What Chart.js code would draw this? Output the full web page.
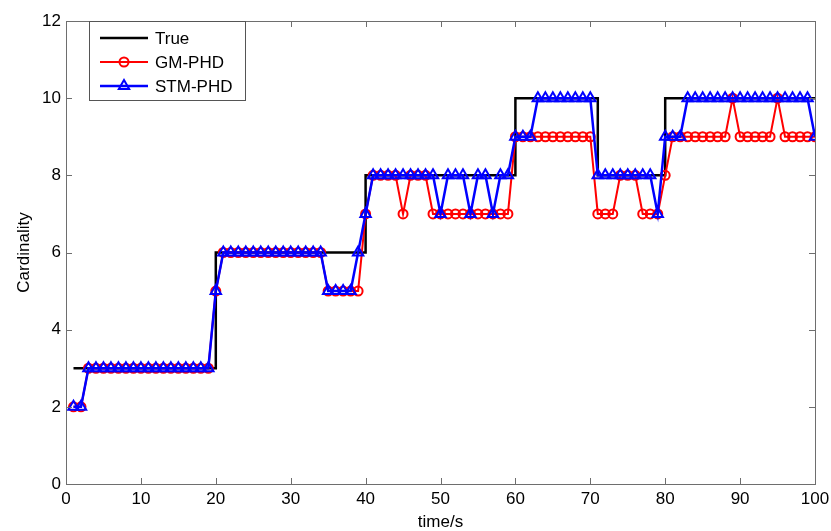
<!DOCTYPE html>
<html>
<head>
<meta charset="utf-8">
<script src="https://cdn.jsdelivr.net/npm/chart.js@4.4.1/dist/chart.umd.min.js"></script>
<style>
  html, body { margin: 0; padding: 0; background: #fff; }
  #wrap { width: 831px; height: 531px; }
</style>
</head>
<body>
<div id="wrap"><canvas id="c" width="831" height="531"></canvas></div>
<script>
const time = [1,2,3,4,5,6,7,8,9,10,11,12,13,14,15,16,17,18,19,20,21,22,23,24,25,26,27,28,29,30,31,32,33,34,35,36,37,38,39,40,41,42,43,44,45,46,47,48,49,50,51,52,53,54,55,56,57,58,59,60,61,62,63,64,65,66,67,68,69,70,71,72,73,74,75,76,77,78,79,80,81,82,83,84,85,86,87,88,89,90,91,92,93,94,95,96,97,98,99,100];

const trueCard = [3,3,3,3,3,3,3,3,3,3,3,3,3,3,3,3,3,3,3,
  6,6,6,6,6,6,6,6,6,6,6,6,6,6,6,6,6,6,6,6,
  8,8,8,8,8,8,8,8,8,8,8,8,8,8,8,8,8,8,8,8,
  10,10,10,10,10,10,10,10,10,10,10,
  8,8,8,8,8,8,8,8,8,
  10,10,10,10,10,10,10,10,10,10,10,10,10,10,10,10,10,10,10,10,10];

const gmPhd = [2,2,
  3,3,3,3,3,3,3,3,3,3,3,3,3,3,3,3,3,
  5,
  6,6,6,6,6,6,6,6,6,6,6,6,6,6,
  5,5,5,5,5,
  7,
  8,8,8,8,
  7,
  8,8,8,
  7,7,7,7,7,7,7,7,7,7,7,
  9,9,9,9,9,9,9,9,9,9,9,
  7,7,7,
  8,8,8,
  7,7,7,
  8,
  9,9,9,9,9,9,9,9,
  10,
  9,9,9,9,9,
  10,
  9,9,9,9,9];

const stmPhd = [2,2,
  3,3,3,3,3,3,3,3,3,3,3,3,3,3,3,3,3,
  5,
  6,6,6,6,6,6,6,6,6,6,6,6,6,6,
  5,5,5,5,
  6,
  7,
  8,8,8,8,8,8,8,8,8,
  7,
  8,8,8,
  7,
  8,8,
  7,
  8,8,
  9,9,9,
  10,10,10,10,10,10,10,10,
  8,8,8,8,8,8,8,8,
  7,
  9,9,9,
  10,10,10,10,10,10,10,10,10,10,10,10,10,10,10,10,10,
  9];

const seriesNames = ['True', 'GM-PHD', 'STM-PHD'];
const xTicks = [0,10,20,30,40,50,60,70,80,90,100];
const yTicks = [0,2,4,6,8,10,12];

const FONT = "'Liberation Sans', Arial, sans-serif";
const AXIS_COLOR = '#6e6e6e';

const frameTicks = {
  id: 'frameTicks',
  afterDatasetsDraw(chart) {
    const {ctx, chartArea: a, scales: {x, y}} = chart;
    ctx.save();
    ctx.strokeStyle = AXIS_COLOR;
    ctx.lineWidth = 1;
    ctx.beginPath();
    const L = 6;
    xTicks.forEach(v => {
      const px = Math.round(x.getPixelForValue(v)) + 0.5;
      ctx.moveTo(px, a.bottom); ctx.lineTo(px, a.bottom - L);
      ctx.moveTo(px, a.top); ctx.lineTo(px, a.top + L);
    });
    yTicks.forEach(v => {
      const py = Math.round(y.getPixelForValue(v)) + 0.5;
      ctx.moveTo(a.left, py); ctx.lineTo(a.left + L, py);
      ctx.moveTo(a.right, py); ctx.lineTo(a.right - L, py);
    });
    ctx.stroke();
    ctx.strokeRect(Math.round(a.left) + 0.5, Math.round(a.top) + 0.5,
                   Math.round(a.right - a.left), Math.round(a.bottom - a.top));
    ctx.restore();
  }
};

const boxLegend = {
  id: 'boxLegend',
  afterDraw(chart) {
    const {ctx, chartArea: a} = chart;
    const bx = Math.round(a.left) + 23, by = Math.round(a.top), bw = 156, bh = 79;
    ctx.save();
    ctx.fillStyle = '#fff';
    ctx.fillRect(bx, by, bw, bh);
    ctx.strokeStyle = '#555';
    ctx.lineWidth = 1;
    ctx.strokeRect(bx + 0.5, by + 0.5, bw, bh);
    const rows = [17, 41, 65];
    chart.data.datasets.forEach((ds, i) => {
      const cy = by + rows[i];
      const x0 = bx + 11, x1 = bx + 59, cx = (x0 + x1) / 2;
      ctx.strokeStyle = ds.borderColor;
      ctx.lineWidth = ds.borderWidth;
      ctx.beginPath(); ctx.moveTo(x0, cy); ctx.lineTo(x1, cy); ctx.stroke();
      ctx.lineWidth = ds.pointBorderWidth || 2;
      if (ds.pointStyle === 'circle' && ds.pointRadius > 0) {
        ctx.beginPath(); ctx.arc(cx, cy, ds.pointRadius, 0, Math.PI * 2); ctx.stroke();
      } else if (ds.pointStyle === 'triangle' && ds.pointRadius > 0) {
        const r = ds.pointRadius;
        ctx.beginPath();
        ctx.moveTo(cx, cy - r);
        ctx.lineTo(cx + r * Math.sin(2 * Math.PI / 3), cy + r / 2);
        ctx.lineTo(cx - r * Math.sin(2 * Math.PI / 3), cy + r / 2);
        ctx.closePath(); ctx.stroke();
      }
      ctx.fillStyle = '#000';
      ctx.font = '17px ' + FONT;
      ctx.textBaseline = 'middle';
      ctx.textAlign = 'left';
      ctx.fillText(ds.label, bx + 66, cy + 1);
    });
    ctx.restore();
  }
};

new Chart(document.getElementById('c'), {
  type: 'line',
  data: {
    labels: time,
    datasets: [
      { label: seriesNames[0], data: trueCard, borderColor: '#000', borderWidth: 2.5,
        pointRadius: 0, pointStyle: false, stepped: 'before', order: 3 },
      { label: seriesNames[1], data: gmPhd, borderColor: '#ff0000', borderWidth: 2,
        pointStyle: 'circle', pointRadius: 4.5, pointBorderWidth: 2,
        pointBorderColor: '#ff0000', pointBackgroundColor: 'rgba(0,0,0,0)', order: 2 },
      { label: seriesNames[2], data: stmPhd, borderColor: '#0000ff', borderWidth: 2.5,
        pointStyle: 'triangle', pointRadius: 6, pointBorderWidth: 2,
        pointBorderColor: '#0000ff', pointBackgroundColor: 'rgba(0,0,0,0)', order: 1 }
    ]
  },
  options: {
    responsive: false,
    animation: false,
    events: [],
    layout: { padding: { top: 21, right: 16, left: 0, bottom: 0 } },
    plugins: { legend: { display: false }, tooltip: { enabled: false } },
    scales: {
      x: {
        type: 'linear', min: 0, max: 100,
        afterBuildTicks: s => { s.ticks = xTicks.map(v => ({ value: v })); },
        afterFit: s => { s.height = 47; s.paddingLeft = 0; s.paddingRight = 0; },
        grid: { display: false, drawTicks: false }, border: { display: false },
        ticks: { color: '#000', font: { family: FONT, size: 17 }, padding: 5, maxRotation: 0, autoSkip: false },
        title: { display: true, text: 'time/s', color: '#000',
                 font: { family: FONT, size: 17, lineHeight: 1 }, padding: 0 }
      },
      y: {
        type: 'linear', min: 0, max: 12,
        afterBuildTicks: s => { s.ticks = yTicks.map(v => ({ value: v })); },
        afterFit: s => { s.width = 66; s.paddingTop = 0; s.paddingBottom = 0; },
        grid: { display: false, drawTicks: false }, border: { display: false },
        ticks: { color: '#000', font: { family: FONT, size: 17 }, padding: 5 },
        title: { display: true, text: 'Cardinality', color: '#000',
                 font: { family: FONT, size: 17, lineHeight: 1 }, padding: { top: 16, bottom: 0 } }
      }
    }
  },
  plugins: [frameTicks, boxLegend]
});
</script>
</body>
</html>
